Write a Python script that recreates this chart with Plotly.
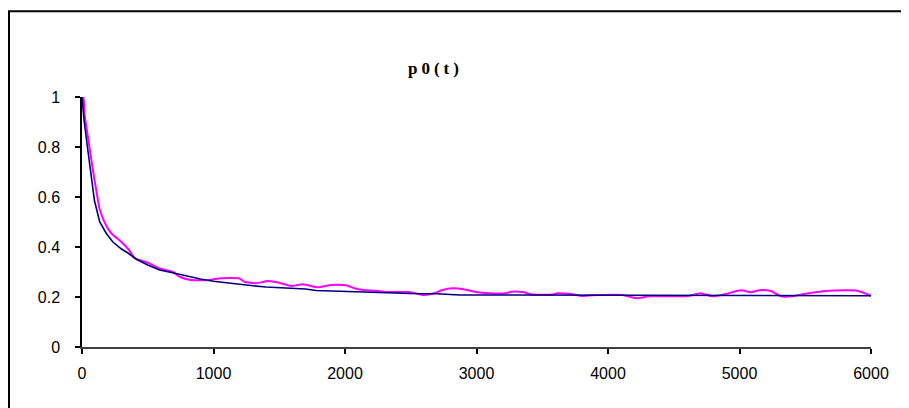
import plotly.graph_objects as go

# Theoretical curve (navy)
t_blue = [0, 15, 45, 70, 95, 135, 185, 235, 300, 350, 410, 500, 590, 690, 790, 900, 1000,
          1100, 1200, 1300, 1400, 1500, 1600, 1700, 1780, 1900, 1980, 2100, 2280, 2500,
          2700, 2870, 3000, 3500, 4000, 4540, 4600, 5000, 5500, 6000]
p_blue = [1.0, 0.91, 0.785, 0.68, 0.585, 0.50, 0.454, 0.42, 0.392, 0.376, 0.352, 0.328, 0.308,
          0.297, 0.284, 0.272, 0.263, 0.256, 0.250, 0.245, 0.240, 0.238, 0.235, 0.232, 0.226,
          0.224, 0.220, 0.219, 0.215, 0.214, 0.213, 0.208, 0.208, 0.208, 0.208, 0.208, 0.205,
          0.205, 0.205, 0.205]

# Simulated curve (magenta)
t_mag = [0, 10, 20, 46, 84, 109, 135, 180, 223, 300, 355, 400, 501, 590, 691, 742, 830, 970,
         1033, 1197, 1235, 1324, 1412, 1500, 1590, 1678, 1792, 1894, 2008, 2071, 2134, 2235,
         2311, 2488, 2602, 2678, 2741, 2817, 2893, 2995, 3096, 3223, 3261, 3349, 3425, 3577,
         3615, 3704, 3805, 3881, 3934, 4111, 4212, 4314, 4541, 4617, 4706, 4794, 4896, 5010,
         5086, 5162, 5238, 5314, 5402, 5504, 5681, 5893, 6000]
p_mag = [1.0, 1.0, 0.93, 0.837, 0.704, 0.625, 0.55, 0.49, 0.455, 0.42, 0.39, 0.356, 0.337,
         0.314, 0.30, 0.281, 0.268, 0.268, 0.274, 0.274, 0.261, 0.255, 0.264, 0.257, 0.244,
         0.251, 0.239, 0.248, 0.247, 0.235, 0.228, 0.225, 0.22, 0.22, 0.208, 0.215, 0.228,
         0.235, 0.232, 0.22, 0.215, 0.215, 0.221, 0.22, 0.21, 0.21, 0.215, 0.213, 0.204,
         0.207, 0.208, 0.208, 0.195, 0.203, 0.203, 0.205, 0.215, 0.203, 0.212, 0.227, 0.219,
         0.228, 0.224, 0.203, 0.203, 0.213, 0.225, 0.225, 0.205]

x_ticks = [0, 1000, 2000, 3000, 4000, 5000, 6000]
y_ticks = [0, 0.2, 0.4, 0.6, 0.8, 1]
y_tick_labels = ["0", "0.2", "0.4", "0.6", "0.8", "1"]
title_text = "p0(t)"

W, H = 909, 408
L, R, T, B = 74, 46, 88.5, 68.5
pw, ph = W - L - R, H - T - B

def px2x(px):
    return (px - L) / pw

def py2y(py):
    return (H - B - py) / ph

fig = go.Figure()
fig.add_trace(go.Scatter(x=t_mag, y=p_mag, mode="lines",
                         line=dict(color="#FF00FF", width=2, shape="spline", smoothing=0.6),
                         showlegend=False, hoverinfo="skip"))
fig.add_trace(go.Scatter(x=t_blue, y=p_blue, mode="lines",
                         line=dict(color="#000080", width=1.6),
                         showlegend=False, hoverinfo="skip"))

axis_font = dict(family="Liberation Sans, Arial, sans-serif", size=16, color="black")
fig.update_layout(
    width=W, height=H,
    margin=dict(l=L, r=R, t=T, b=B, pad=0),
    paper_bgcolor="white", plot_bgcolor="white",
    xaxis=dict(range=[0, 6000], tickvals=x_ticks, showgrid=False, zeroline=False,
               showline=True, linecolor="#404040", linewidth=2,
               ticks="outside", ticklen=5, tickwidth=1.5, tickcolor="black",
               tickfont=axis_font, ticklabelstandoff=6, fixedrange=True),
    yaxis=dict(range=[0, 1], tickvals=y_ticks, ticktext=y_tick_labels, showgrid=False,
               zeroline=False, showline=True, linecolor="black", linewidth=1.5,
               ticks="outside", ticklen=5, tickwidth=1.5, tickcolor="black",
               tickfont=axis_font, ticklabelstandoff=12, fixedrange=True),
    shapes=[dict(type="rect", xref="paper", yref="paper",
                 x0=px2x(1), x1=px2x(925), y0=py2y(425), y1=py2y(2.5),
                 line=dict(color="black", width=2), fillcolor="rgba(0,0,0,0)", layer="above")],
    annotations=[dict(text='<span style="letter-spacing:4px">' + title_text + '</span>',
                      xref="paper", yref="paper", x=px2x(427), y=py2y(60),
                      xanchor="center", yanchor="middle", showarrow=False,
                      font=dict(family="Liberation Serif, Times New Roman, serif",
                                size=17, color="black", weight="bold"))],
)

fig.write_html("out.html")
